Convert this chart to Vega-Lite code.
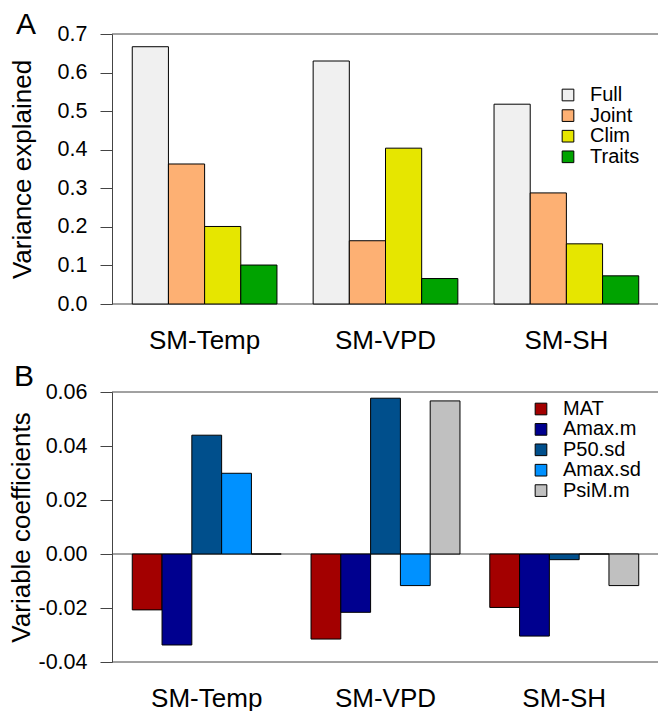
{
  "$schema": "https://vega.github.io/schema/vega-lite/v6.json",
  "padding": {"left": 8, "top": 10, "right": 0, "bottom": 0},
  "background": "white",
  "config": {
    "font": "Liberation Sans",
    "view": {"stroke": null},
    "axis": {"grid": false}
  },
  "resolve": {"scale": {"color": "independent", "xOffset": "independent", "x": "independent", "y": "independent"}, "legend": {"color": "independent"}, "axis": {"x": "independent", "y": "independent"}},
  "spacing": 9,
  "vconcat": [
    {
      "width": 547,
      "height": 270,
      "title": {"text": "A", "anchor": "start", "frame": "group", "fontSize": 30, "fontWeight": "normal", "dx": -96, "offset": -41, "baseline": "alphabetic", "color": "black"},
      "data": {"values": [
        {"model": "SM-Temp", "component": "Full", "value": 0.667},
        {"model": "SM-Temp", "component": "Joint", "value": 0.363},
        {"model": "SM-Temp", "component": "Clim", "value": 0.201},
        {"model": "SM-Temp", "component": "Traits", "value": 0.101},
        {"model": "SM-VPD", "component": "Full", "value": 0.630},
        {"model": "SM-VPD", "component": "Joint", "value": 0.164},
        {"model": "SM-VPD", "component": "Clim", "value": 0.404},
        {"model": "SM-VPD", "component": "Traits", "value": 0.066},
        {"model": "SM-SH", "component": "Full", "value": 0.518},
        {"model": "SM-SH", "component": "Joint", "value": 0.288},
        {"model": "SM-SH", "component": "Clim", "value": 0.156},
        {"model": "SM-SH", "component": "Traits", "value": 0.073}
      ]},
      "encoding": {
        "y": {"field": "value", "type": "quantitative",
          "scale": {"domain": [0, 0.7], "nice": false, "zero": true},
          "axis": {"title": "Variance explained", "values": [0, 0.1, 0.2, 0.3, 0.4, 0.5, 0.6, 0.7], "format": ".1f",
            "domain": true, "domainColor": "#444", "tickColor": "#444", "tickSize": 12, "labelFontSize": 21.5, "labelPadding": 13, "labelColor": "black",
            "titleFontSize": 26, "titleFontWeight": "normal", "titleColor": "black", "titlePadding": 22}}
      },
      "layer": [
        {
          "data": {"values": [{"value": 0}, {"value": 0.7}]},
          "mark": {"type": "rule", "color": "#444", "strokeWidth": 1}
        },
        {
          "mark": {"type": "bar", "stroke": "black", "strokeWidth": 1},
          "encoding": {
            "x": {"field": "model", "type": "nominal", "sort": ["SM-Temp", "SM-VPD", "SM-SH"],
              "scale": {"paddingInner": 0.2, "paddingOuter": 0.112},
              "axis": {"title": null, "domain": false, "ticks": false, "labelAngle": 0, "labelFontSize": 26, "labelPadding": 23, "labelColor": "black"}},
            "xOffset": {"field": "component", "type": "nominal", "sort": ["Full", "Joint", "Clim", "Traits"],
              "scale": {"paddingInner": 0, "paddingOuter": 0}},
            "color": {"field": "component", "type": "nominal",
              "scale": {"domain": ["Full", "Joint", "Clim", "Traits"], "range": ["#f0f0f0", "#fdb073", "#e6e600", "#00a300"]},
              "legend": {"title": null, "orient": "none", "legendX": 446, "legendY": 51, "padding": 0, "symbolType": "square", "symbolSize": 136,
                "symbolStrokeColor": "black", "symbolStrokeWidth": 1, "symbolOpacity": 1, "labelFontSize": 20, "labelOffset": 12, "rowPadding": 0.6, "labelColor": "black"}}
          }
        }
      ]
    },
    {
      "width": 547,
      "height": 270,
      "title": {"text": "B", "anchor": "start", "frame": "group", "fontSize": 30, "fontWeight": "normal", "dx": -98, "offset": -35, "baseline": "alphabetic", "color": "black"},
      "data": {"values": [
        {"model": "SM-Temp", "variable": "MAT", "value": -0.0207},
        {"model": "SM-Temp", "variable": "Amax.m", "value": -0.0337},
        {"model": "SM-Temp", "variable": "P50.sd", "value": 0.0440},
        {"model": "SM-Temp", "variable": "Amax.sd", "value": 0.0299},
        {"model": "SM-Temp", "variable": "PsiM.m", "value": 0},
        {"model": "SM-VPD", "variable": "MAT", "value": -0.0315},
        {"model": "SM-VPD", "variable": "Amax.m", "value": -0.0216},
        {"model": "SM-VPD", "variable": "P50.sd", "value": 0.0577},
        {"model": "SM-VPD", "variable": "Amax.sd", "value": -0.0117},
        {"model": "SM-VPD", "variable": "PsiM.m", "value": 0.0567},
        {"model": "SM-SH", "variable": "MAT", "value": -0.0198},
        {"model": "SM-SH", "variable": "Amax.m", "value": -0.0304},
        {"model": "SM-SH", "variable": "P50.sd", "value": -0.0021},
        {"model": "SM-SH", "variable": "Amax.sd", "value": 0},
        {"model": "SM-SH", "variable": "PsiM.m", "value": -0.0117}
      ]},
      "encoding": {
        "y": {"field": "value", "type": "quantitative",
          "scale": {"domain": [-0.04, 0.06], "nice": false, "zero": false},
          "axis": {"title": "Variable coefficients", "values": [-0.04, -0.02, 0, 0.02, 0.04, 0.06], "format": ".2f",
            "labelExpr": "replace(datum.label, '\u2212', '-')",
            "domain": true, "domainColor": "#444", "tickColor": "#444", "tickSize": 12, "labelFontSize": 21.5, "labelPadding": 13, "labelColor": "black",
            "titleFontSize": 26, "titleFontWeight": "normal", "titleColor": "black", "titlePadding": 3}}
      },
      "layer": [
        {
          "data": {"values": [{"value": -0.04}, {"value": 0}, {"value": 0.06}]},
          "mark": {"type": "rule", "color": "#444", "strokeWidth": 1}
        },
        {
          "mark": {"type": "bar", "stroke": "black", "strokeWidth": 1},
          "encoding": {
            "x": {"field": "model", "type": "nominal", "sort": ["SM-Temp", "SM-VPD", "SM-SH"],
              "scale": {"paddingInner": 0.1667, "paddingOuter": 0.1133},
              "axis": {"title": null, "domain": false, "ticks": false, "labelAngle": 0, "labelFontSize": 26, "labelPadding": 23, "labelColor": "black"}},
            "xOffset": {"field": "variable", "type": "nominal", "sort": ["MAT", "Amax.m", "P50.sd", "Amax.sd", "PsiM.m"],
              "scale": {"paddingInner": 0, "paddingOuter": 0}},
            "color": {"field": "variable", "type": "nominal",
              "scale": {"domain": ["MAT", "Amax.m", "P50.sd", "Amax.sd", "PsiM.m"], "range": ["#a30000", "#00008f", "#004f8c", "#0091ff", "#c0c0c0"]},
              "legend": {"title": null, "orient": "none", "legendX": 419, "legendY": 7, "padding": 0, "symbolType": "square", "symbolSize": 136,
                "symbolStrokeColor": "black", "symbolStrokeWidth": 1, "symbolOpacity": 1, "labelFontSize": 20, "labelOffset": 12, "rowPadding": 0.4, "labelColor": "black"}}
          }
        }
      ]
    }
  ]
}
